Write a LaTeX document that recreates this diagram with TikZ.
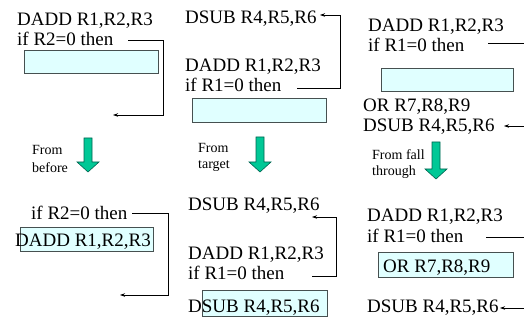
\documentclass[tikz,border=0pt]{standalone}
\usepackage{fontspec}
\setmainfont{Liberation Serif}
\newfontfamily\timesfont{Liberation Serif}
\usetikzlibrary{arrows.meta}
\definecolor{boxfill}{RGB}{224,255,255}
\definecolor{boxline}{RGB}{70,80,80}
\definecolor{garrowfill}{RGB}{0,200,150}
\definecolor{garrowline}{RGB}{0,100,80}
\tikzset{
  code/.style={anchor=base west, inner sep=0pt, font=\timesfont\fontsize{19}{21}\selectfont},
  small/.style={anchor=base west, inner sep=0pt, font=\timesfont\fontsize{14}{16}\selectfont},
  slot/.style={draw=boxline, fill=boxfill, line width=0.8pt, anchor=north west, inner sep=0pt},
  conn/.style={line width=0.7pt},
  tip/.style={-{Stealth[length=5pt,width=3.5pt]}},
  greenarrow/.style={draw=garrowline, fill=garrowfill, line width=0.6pt},
}
\newcommand{\downarrowat}[3]{%
  \path[greenarrow] (#1-4,#2) -- (#1+4,#2) -- (#1+4,#3-10) -- (#1+11,#3-10) -- (#1,#3)
    -- (#1-11,#3-10) -- (#1-4,#3-10) -- cycle;}
\begin{document}
\begin{tikzpicture}[x=1pt,y=-1pt]
\path[use as bounding box] (0,0) rectangle (524,320);

% ---------- column 1 ----------
\node[code] (c1a) at (17,26) {DADD R1,R2,R3};
\node[code] (c1b) at (17,46) {if R2=0 then};
\node[slot, minimum width=134pt, minimum height=23pt] (s1) at (24,50) {};
\coordinate (p1s) at (128,40);
\coordinate (p1e) at (113,115);
\draw[conn,tip] (p1s) -- ++(35,0) |- (p1e);

\node[small] (f1a) at (32,155) {From};
\node[small] (f1b) at (32,173) {before};
\downarrowat{88}{138}{172}

\node[slot, minimum width=133pt, minimum height=24pt] (s2) at (20,227) {};
\node[code] (c1c) at (31,219) {if R2=0 then};
\node[code] (c1d) at (15,247) {DADD R1,R2,R3};
\coordinate (p2s) at (132,213);
\coordinate (p2e) at (120,295);
\draw[conn,tip] (p2s) -- ++(36,0) |- (p2e);

% ---------- column 2 ----------
\node[code] (c2a) at (185,24) {DSUB R4,R5,R6};
\node[code] (c2b) at (185,72) {DADD R1,R2,R3};
\node[code] (c2c) at (185,92) {if R1=0 then};
\node[slot, minimum width=134pt, minimum height=24pt] (s3) at (192,98) {};
\coordinate (p3s) at (297,88);
\coordinate (p3e) at (320,15);
\draw[conn,tip] (p3s) -- ++(43,0) |- (p3e);

\node[small] (f2a) at (198,153) {From};
\node[small] (f2b) at (198,169) {target};
\downarrowat{260}{137}{172}

\node[code] (c2d) at (188,211) {DSUB R4,R5,R6};
\node[code] (c2e) at (188,259) {DADD R1,R2,R3};
\node[code] (c2f) at (188,279) {if R1=0 then};
\coordinate (p4s) at (312,276);
\coordinate (p4e) at (312,217);
\draw[conn,tip] (p4s) -- ++(24,0) |- (p4e);
\node[slot, minimum width=125pt, minimum height=26pt] (s4) at (202,290) {};
\node[code] (c2g) at (188,312) {DSUB R4,R5,R6};

% ---------- column 3 ----------
\node[code] (c3a) at (368,32) {DADD R1,R2,R3};
\node[code] (c3b) at (368,52) {if R1=0 then};
\coordinate (p5s) at (488,43);
\coordinate (p5e) at (524,43);
\draw[conn] (p5s) -- (p5e);
\node[slot, minimum width=132pt, minimum height=23pt] (s5) at (381,68) {};
\node[code] (c3c) at (363,112) {OR R7,R8,R9};
\node[code] (c3d) at (363,132) {DSUB R4,R5,R6};
\coordinate (p6s) at (524,126);
\coordinate (p6e) at (504,126);
\draw[conn,tip] (p6s) -- (p6e);

\node[small] (f3a) at (372,160) {From fall};
\node[small] (f3b) at (372,176) {through};
\downarrowat{436}{142}{179}

\node[code] (c3e) at (367,222) {DADD R1,R2,R3};
\node[code] (c3f) at (367,243) {if R1=0 then};
\coordinate (p7s) at (486,237);
\coordinate (p7e) at (524,237);
\draw[conn] (p7s) -- (p7e);
\node[slot, minimum width=135pt, minimum height=25pt] (s6) at (378,252) {};
\node[code] (c3g) at (383,272) {OR R7,R8,R9};
\node[code] (c3h) at (367,312) {DSUB R4,R5,R6};
\coordinate (p8s) at (524,308);
\coordinate (p8e) at (500,308);
\draw[conn,tip] (p8s) -- (p8e);
\end{tikzpicture}
\end{document}
